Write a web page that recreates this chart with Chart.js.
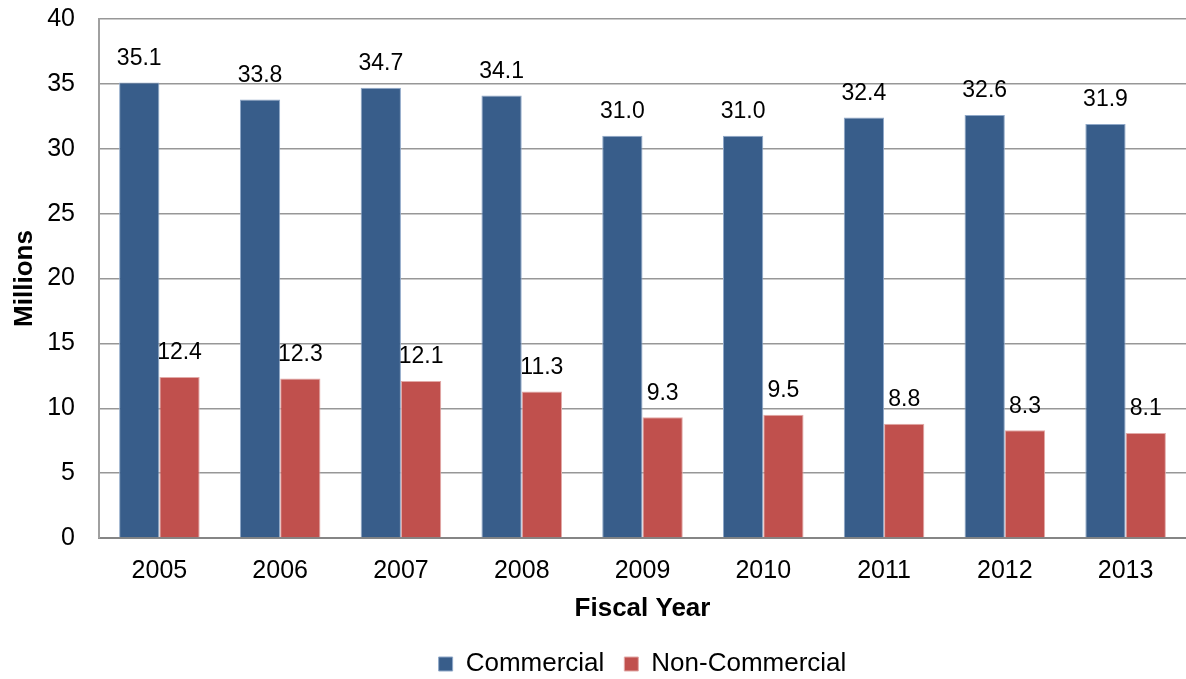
<!DOCTYPE html>
<html>
<head>
<meta charset="utf-8">
<script src="https://cdn.jsdelivr.net/npm/chart.js@4.4.1/dist/chart.umd.min.js"></script>
<style>
  html, body { margin: 0; padding: 0; background: #ffffff; }
  #wrap { width: 1186px; height: 679px; position: relative; }
</style>
</head>
<body>
<div id="wrap"><canvas id="c" width="1186" height="679"></canvas></div>
<script>
// Fiscal years and counts (millions)
const years = ['2005', '2006', '2007', '2008', '2009', '2010', '2011', '2012', '2013'];
const commercial = [35.1, 33.8, 34.7, 34.1, 31.0, 31.0, 32.4, 32.6, 31.9];
const nonCommercial = [12.4, 12.3, 12.1, 11.3, 9.3, 9.5, 8.8, 8.3, 8.1];
const yTicks = [0, 5, 10, 15, 20, 25, 30, 35, 40];

const FONT = '"Liberation Sans", Arial, Helvetica, sans-serif';

// Writes each bar's value centred above it
const valueLabels = {
  id: 'valueLabels',
  afterDatasetsDraw(chart) {
    const ctx = chart.ctx;
    ctx.save();
    ctx.font = '23px ' + FONT;
    ctx.fillStyle = '#000000';
    ctx.textAlign = 'center';
    ctx.textBaseline = 'middle';
    chart.data.datasets.forEach((ds, i) => {
      const meta = chart.getDatasetMeta(i);
      meta.data.forEach((bar, j) => {
        ctx.fillText(ds.data[j].toFixed(1), bar.x, bar.y - 24);
      });
    });
    ctx.restore();
  }
};

new Chart(document.getElementById('c'), {
  type: 'bar',
  data: {
    labels: years,
    datasets: [
      {
        label: 'Commercial',
        data: commercial,
        backgroundColor: '#385D8A',
        borderColor: '#8FA8C8',
        borderWidth: 1
      },
      {
        label: 'Non-Commercial',
        data: nonCommercial,
        backgroundColor: '#C0504D',
        borderColor: '#E2A9A7',
        borderWidth: 1
      }
    ]
  },
  options: {
    responsive: false,
    animation: false,
    devicePixelRatio: 1,
    layout: { padding: { top: 19, right: 0, bottom: -8, left: 0 } },
    datasets: {
      bar: { categoryPercentage: 0.667, barPercentage: 1.0 }
    },
    scales: {
      x: {
        afterFit(scale) {
          scale.height = 93;
          scale.paddingLeft = 0;
          scale.paddingRight = 0;
        },
        grid: { display: false, drawTicks: false },
        border: { display: true, color: '#858585', width: 2 },
        ticks: {
          color: '#000000',
          font: { family: FONT, size: 25 },
          padding: 18,
          maxRotation: 0
        },
        title: {
          display: true,
          text: 'Fiscal Year',
          color: '#000000',
          font: { family: FONT, size: 26, weight: 'bold' },
          padding: { top: 0, bottom: 7 }
        }
      },
      y: {
        min: 0,
        max: 40,
        afterBuildTicks(scale) {
          scale.ticks = yTicks.map(v => ({ value: v }));
        },
        afterFit(scale) {
          scale.width = 99;
          scale.paddingTop = 0;
          scale.paddingBottom = 0;
        },
        grid: { color: '#979797', lineWidth: 1.5, drawTicks: false },
        border: { display: true, color: '#A0A0A0', width: 2 },
        ticks: {
          color: '#000000',
          font: { family: FONT, size: 25 },
          padding: 24
        },
        title: {
          display: true,
          text: 'Millions',
          color: '#000000',
          font: { family: FONT, size: 26, weight: 'bold' },
          padding: { top: 9, bottom: 0 }
        }
      }
    },
    plugins: {
      legend: {
        position: 'bottom',
        fullSize: false,
        labels: {
          color: '#000000',
          font: { family: FONT, size: 26 },
          boxWidth: 14,
          boxHeight: 14,
          padding: 20
        }
      },
      tooltip: { enabled: false }
    }
  },
  plugins: [valueLabels]
});
</script>
</body>
</html>
